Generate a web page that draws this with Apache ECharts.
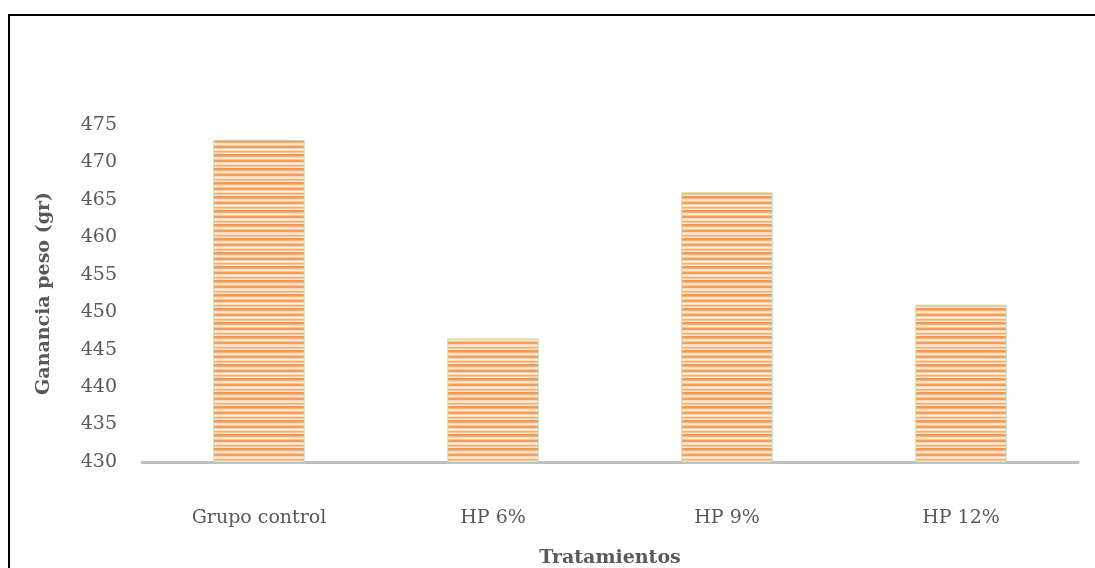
<!DOCTYPE html>
<html>
<head>
<meta charset="utf-8">
<script src="https://cdn.jsdelivr.net/npm/echarts@6/dist/echarts.min.js"></script>
<style>
  html, body { margin: 0; padding: 0; background: #fff; overflow: hidden; }
  #frame {
    position: absolute; left: 8px; top: 14px; width: 1200px; height: 700px;
    border-left: 2px solid #000; border-top: 2px solid #000;
  }
  #main { position: absolute; left: 0; top: 0; width: 1095px; height: 568px; }
</style>
</head>
<body>
<div id="frame"></div>
<div id="main"></div>
<script>
  // datos
  var categories = ['Grupo control', 'HP 6%', 'HP 9%', 'HP 12%'];
  var ganancia = [473, 446.5, 466, 451];

  // relleno rayado (horizontal)
  function stripes() {
    var rows = ['#F39A50', '#F39A50', '#F7B47C', '#FCDCC0', '#FDE8D6', '#F9C69C',
                '#F49E58', '#F49E58', '#FBD4B4', '#FEEDDF', '#FDE4CE', '#F6AA6A',
                '#FAC9A0', '#FDE6D2'];
    var c = document.createElement('canvas');
    c.width = 4; c.height = rows.length;
    var ctx = c.getContext('2d');
    rows.forEach(function (col, i) {
      ctx.fillStyle = col;
      ctx.fillRect(0, i, 4, 1);
    });
    return c;
  }

  var chart = echarts.init(document.getElementById('main'));
  var font = 'DejaVu Serif';
  chart.setOption({
    animation: false,
    grid: { left: 142, right: 17, top: 125, bottom: 106, outerBoundsMode: 'none', containLabel: false },
    xAxis: {
      type: 'category',
      data: categories,
      name: 'Tratamientos',
      nameLocation: 'middle',
      nameGap: 87,
      nameTextStyle: { fontFamily: font, fontWeight: 'bold', fontSize: 19, color: '#595959' },
      axisLine: { lineStyle: { color: '#BFBFBF', width: 3 } },
      axisTick: { show: false },
      axisLabel: { fontFamily: font, fontSize: 19, color: '#595959', margin: 47 }
    },
    yAxis: {
      type: 'value',
      min: 430, max: 475, interval: 5,
      name: 'Ganancia peso (gr)',
      nameLocation: 'middle',
      nameGap: 88,
      nameTextStyle: { fontFamily: font, fontWeight: 'bold', fontSize: 19, color: '#595959' },
      axisLine: { show: false },
      axisTick: { show: false },
      splitLine: { show: false },
      axisLabel: { fontFamily: font, fontSize: 19, color: '#595959', margin: 25 }
    },
    series: [{
      type: 'bar',
      data: ganancia,
      barWidth: '39%',
      itemStyle: {
        color: { image: stripes(), repeat: 'repeat' },
        borderColor: '#B5DDB0',
        borderWidth: 1
      }
    }]
  });
</script>
</body>
</html>
